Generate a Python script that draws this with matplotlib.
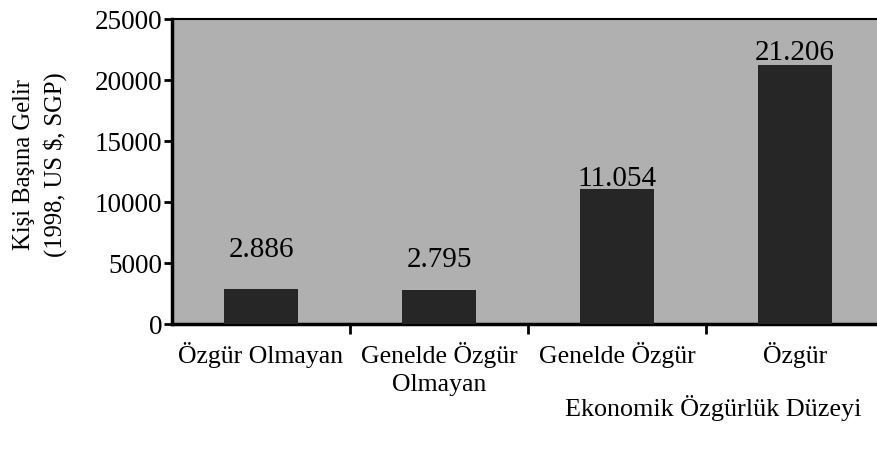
import matplotlib
matplotlib.use("Agg")
import matplotlib.pyplot as plt
import numpy as np

categories = ["Özgür Olmayan", "Genelde Özgür\nOlmayan", "Genelde Özgür", "Özgür"]
values = [2886, 2795, 11054, 21206]
value_labels = ["2.886", "2.795", "11.054", "21.206"]
yticks = [0, 5000, 10000, 15000, 20000, 25000]

plt.rcParams['font.family'] = ['Liberation Serif', 'DejaVu Serif']

W, H = 877, 452
fig = plt.figure(figsize=(W/100, H/100), dpi=100)
ax = fig.add_axes([172/W, 1-325/H, (W-172)/W, (325-20)/H])
ax.set_facecolor('#b0b0b0')

x = np.arange(len(categories))
ax.bar(x, values, width=0.42, color='#262626', zorder=3)
ax.set_xlim(-0.5, 3.46)
ax.set_ylim(0, 25000)

# label offsets (styling) in data units, baseline-anchored
offsets = [2690, 1960, 350, 550]
for xi, v, lab, off in zip(x, values, value_labels, offsets):
    ax.text(xi, v + off, lab, ha='center', va='baseline', fontsize=21, zorder=4)

ax.set_yticks(yticks)
ax.set_yticklabels([str(t) for t in yticks], fontsize=19.5)
ax.tick_params(axis='y', direction='out', length=6, width=2, pad=1)

ax.set_xticks([0.5, 1.5, 2.5])
ax.set_xticklabels([])
ax.tick_params(axis='x', direction='out', length=7, width=2)
for xi, c in zip(x, categories):
    ax.text(xi, -0.055, c, transform=ax.get_xaxis_transform(), ha='center', va='top',
            fontsize=18.5, linespacing=1.35)

for s in ['left', 'bottom']:
    ax.spines[s].set_linewidth(2.5)
ax.spines['top'].set_linewidth(1.5)
ax.spines['right'].set_visible(False)

fig.text(40/W, 1-165/H, "Kişi Başına Gelir\n(1998, US $, SGP)", rotation=90,
         ha='center', va='center', fontsize=17.7, linespacing=1.45)
fig.text(713/W, 1-408/H, "Ekonomik Özgürlük Düzeyi", ha='center', va='center', fontsize=18.8)

fig.savefig("out.png", dpi=100, facecolor='white')
